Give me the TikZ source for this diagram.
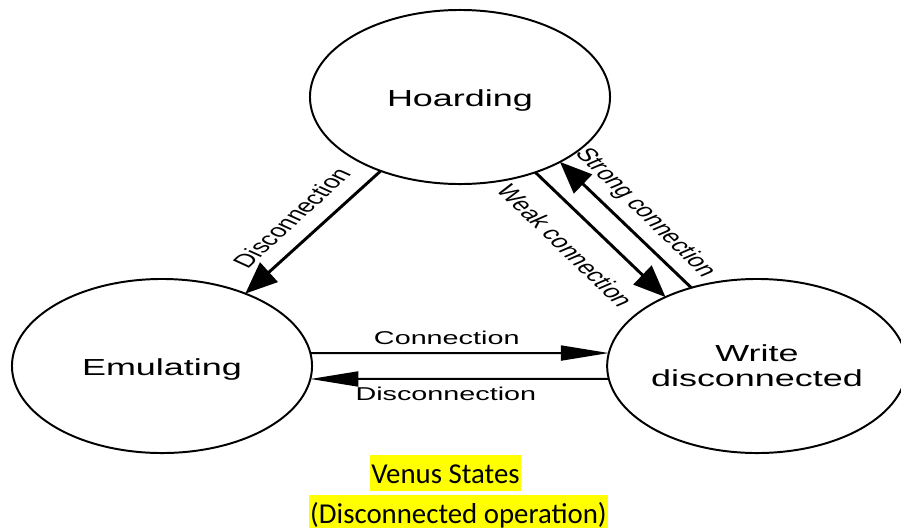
\documentclass[tikz,border=0pt]{standalone}
\usepackage{fontspec}
\setmainfont{Liberation Sans}
\newfontfamily\capfont{Carlito}
\usepackage{tikz}
\usetikzlibrary{positioning,arrows.meta,shapes.geometric}
\definecolor{venusink}{RGB}{0,0,0}
\definecolor{venushl}{RGB}{255,255,0}
\newcommand{\stretchx}[1]{\scalebox{1.55}[1]{#1}}

\begin{document}
\begin{tikzpicture}[
  x=0.025cm, y=-0.025cm,
  state/.style={ellipse,draw=venusink,line width=1.4pt,outer sep=0pt,inner sep=0pt,minimum width=7.5cm,minimum height=4.35cm,align=center,font=\fontsize{16.5}{17.8}\selectfont},
  lab/.style={font=\fontsize{13.2}{15}\selectfont,inner sep=0pt,text height=9.5pt,text depth=0pt},
  diagarr/.style={-{Triangle[length=0.8cm,width=0.65cm]},line width=2.1pt,draw=venusink},
  flatarr/.style={-{Triangle[length=1.2cm,width=0.375cm]},line width=1.4pt,draw=venusink},
  capbox/.style={fill=venushl,anchor=base,inner xsep=1pt,inner ysep=0pt,text height=20pt,text depth=5.7pt,font=\capfont\fontsize{20.5}{24}\selectfont}
]
\useasboundingbox (0,0) rectangle (901,527);

% the three states
\node[state,text height=16pt,text depth=1.8pt] (hoard) at (460,97) {\stretchx{Hoarding}};
\node[state,text height=16pt,text depth=1.8pt] (emul) at (162,366) {\stretchx{Emulating}};
\node[state,minimum width=7.15cm] (write) at (757,366) {\stretchx{Write}\\\stretchx{disconnected}};

% transitions
\draw[diagarr] (hoard.223) -- node[lab,pos=.5,xshift=-15.3pt,yshift=10.3pt,xscale=1.55,rotate=54.65] {Disconnection} (emul.41);
\draw[diagarr] (hoard.315) -- node[lab,pos=.5,xshift=-24.9pt,yshift=-7.8pt,xscale=1.55,rotate=-55.95] {Weak connection} (write.143);
\draw[diagarr] (write.130) -- node[lab,pos=.5,xshift=15.3pt,yshift=9.2pt,xscale=1.55,rotate=-56.35] {Strong connection} (hoard.327);
\draw[flatarr] (emul.5) -- node[lab,pos=.457,above=5.7pt] {\stretchx{Connection}} (write.175);
\draw[flatarr] (write.185) -- node[lab,pos=.546,below=5.2pt] {\stretchx{Disconnection}} (emul.355);

% caption
\node[capbox] (captop) at (445.5,483) {Venus States};
\node[capbox] (capbot) at (458.5,523) {(Disconnected operation)};
\end{tikzpicture}
\end{document}
